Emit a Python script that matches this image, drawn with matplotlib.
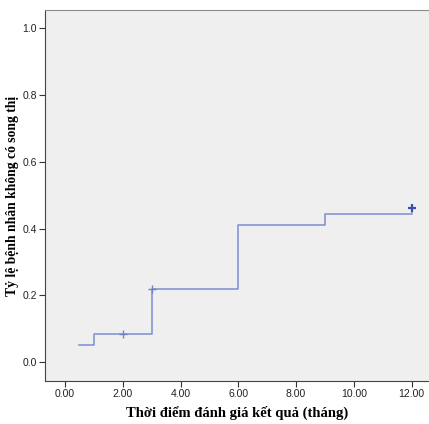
import matplotlib.pyplot as plt

# dữ liệu
step_x = [0.5, 1.0, 3.0, 6.0, 9.0, 12.0]
step_y = [0.05, 0.083, 0.219, 0.41, 0.444, 0.461]
censor_x = [2.0, 3.0, 12.0]
censor_y = [0.083, 0.219, 0.461]
x_ticks = [0, 2, 4, 6, 8, 10, 12]
y_ticks = [0.0, 0.2, 0.4, 0.6, 0.8, 1.0]

fig = plt.figure(figsize=(4.29, 4.24), dpi=100)
ax = fig.add_axes([45 / 429, 43 / 424, 384 / 429, 371 / 424])
ax.set_facecolor('#efefef')

ax.step(step_x, step_y, where='post', color='#7b8fcf', linewidth=1.1)
ax.plot(censor_x[:2], censor_y[:2], linestyle='none', marker='+', color='#6f84c8',
        markersize=6, markeredgewidth=1.0)
ax.plot(censor_x[2:], censor_y[2:], linestyle='none', marker='+', color='#3a4fae',
        markersize=6, markeredgewidth=1.6)

ax.set_xlim(-0.69, 12.6)
ax.set_ylim(-0.057, 1.055)
ax.set_xticks(x_ticks)
ax.set_xticklabels([f'{v:.2f}' for v in x_ticks])
ax.set_yticks(y_ticks)
ax.set_yticklabels([f'{v:.1f}' for v in y_ticks])
ax.tick_params(labelsize=7.5, length=4, width=0.8, color='#333333', pad=2)
for lab in ax.get_xticklabels() + ax.get_yticklabels():
    lab.set_family('Liberation Sans')
    lab.set_color('#222222')

ax.spines['right'].set_visible(False)
ax.spines['top'].set_color('#8c8c8c')
ax.spines['left'].set_color('#444444')
ax.spines['bottom'].set_color('#444444')

ax.set_xlabel('Thời điểm đánh giá kết quả (tháng)', family='Liberation Serif',
              fontweight='bold', fontsize=10.5, labelpad=5)
ax.set_ylabel('Tỷ lệ bệnh nhân không có song thị', family='Liberation Serif',
              fontweight='bold', fontsize=9.8, labelpad=2)

fig.savefig('out.png', dpi=100)
